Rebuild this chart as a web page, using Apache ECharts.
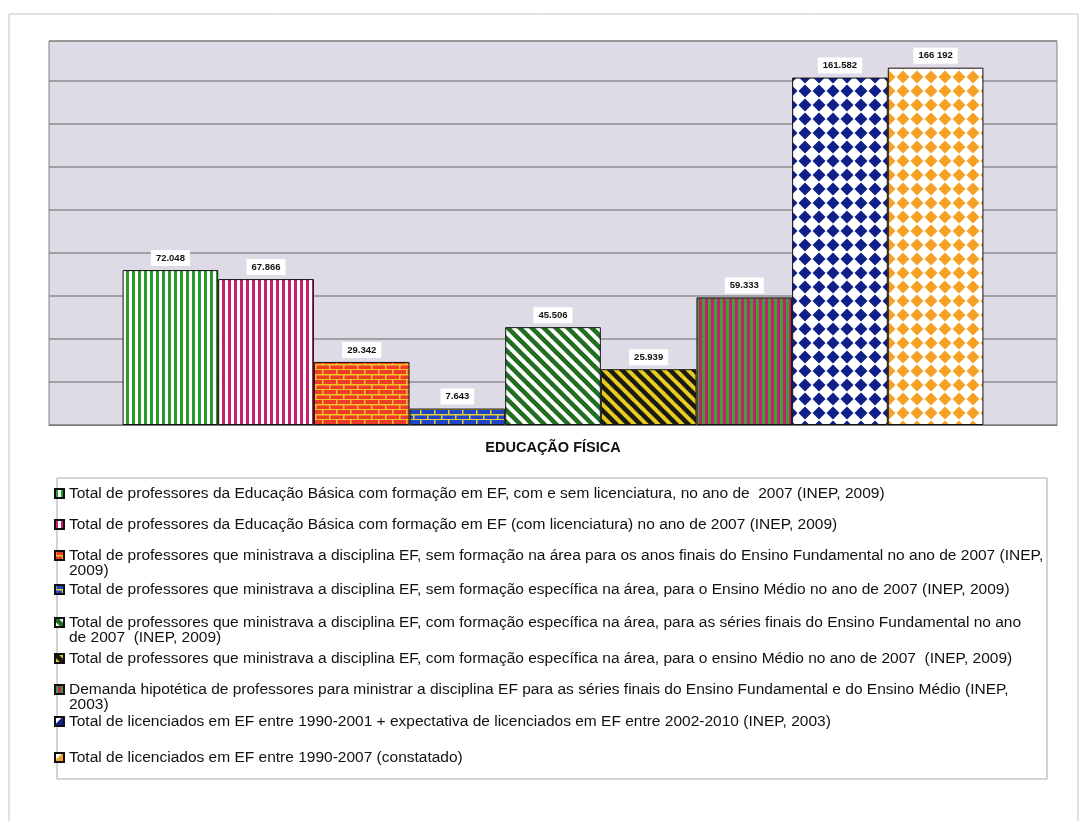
<!DOCTYPE html>
<html>
<head>
<meta charset="utf-8">
<script src="https://cdn.jsdelivr.net/npm/echarts@6/dist/echarts.min.js"></script>
<style>
  html, body { margin: 0; padding: 0; background: #fff; }
  #chart { width: 1086px; height: 821px; }
</style>
</head>
<body>
<div id="chart"></div>
<script>
// dados
const categories = ['EDUCAÇÃO FÍSICA'];
const seriesNames = [
  'Total de professores da Educação Básica com formação em EF, com e sem licenciatura, no ano de  2007 (INEP, 2009)',
  'Total de professores da Educação Básica com formação em EF (com licenciatura) no ano de 2007 (INEP, 2009)',
  'Total de professores que ministrava a disciplina EF, sem formação na área para os anos finais do Ensino Fundamental no ano de 2007 (INEP,\n2009)',
  'Total de professores que ministrava a disciplina EF, sem formação específica na área, para o Ensino Médio no ano de 2007 (INEP, 2009)',
  'Total de professores que ministrava a disciplina EF, com formação específica na área, para as séries finais do Ensino Fundamental no ano\nde 2007  (INEP, 2009)',
  'Total de professores que ministrava a disciplina EF, com formação específica na área, para o ensino Médio no ano de 2007  (INEP, 2009)',
  'Demanda hipotética de professores para ministrar a disciplina EF para as séries finais do Ensino Fundamental e do Ensino Médio (INEP,\n2003)',
  'Total de licenciados em EF entre 1990-2001 + expectativa de licenciados em EF entre 2002-2010 (INEP, 2003)',
  'Total de licenciados em EF entre 1990-2007 (constatado)'
];
const values = [72048, 67866, 29342, 7643, 45506, 25939, 59333, 161582, 166192];
const valueLabels = ['72.048', '67.866', '29.342', '7.643', '45.506', '25.939', '59.333', '161.582', '166 192'];

// padrões de preenchimento (estilo Excel)
function makePattern(w, h, draw) {
  const c = document.createElement('canvas');
  c.width = w; c.height = h;
  draw(c.getContext('2d'), w, h);
  return { image: c, repeat: 'repeat' };
}
function vStripes(a, b) {
  return makePattern(6, 6, (g) => {
    g.fillStyle = b; g.fillRect(0, 0, 6, 6);
    g.fillStyle = a; g.fillRect(0, 0, 3, 6);
  });
}
function diag(a, b) {
  return makePattern(12, 12, (g) => {
    g.fillStyle = b; g.fillRect(0, 0, 12, 12);
    g.strokeStyle = a; g.lineWidth = 4.5;
    for (let k = -24; k <= 24; k += 12) {
      g.beginPath(); g.moveTo(k - 4, -4); g.lineTo(k + 16, 16); g.stroke();
    }
  });
}
function brick(a, b) {
  return makePattern(14, 10, (g) => {
    g.fillStyle = a; g.fillRect(0, 0, 14, 10);
    g.fillStyle = b;
    g.fillRect(0, 4, 14, 1.5); g.fillRect(0, 9, 14, 1.5);
    g.fillRect(0, 0, 1.5, 4); g.fillRect(7, 5, 1.5, 4);
  });
}
function diamonds(a) {
  return makePattern(14, 14, (g) => {
    g.fillStyle = '#fff'; g.fillRect(0, 0, 14, 14);
    g.fillStyle = a;
    g.beginPath();
    g.moveTo(7, 0.5); g.lineTo(13.5, 7); g.lineTo(7, 13.5); g.lineTo(0.5, 7);
    g.closePath(); g.fill();
  });
}
const fills = [
  vStripes('#2a9a2a', '#ffffff'),
  vStripes('#c8206e', '#ffffff'),
  brick('#f03a2a', '#f2c428'),
  brick('#2046c8', '#e8cc30'),
  diag('#1f6e22', '#ffffff'),
  diag('#1a1a12', '#e6cc22'),
  vStripes('#3ea03a', '#c4206c'),
  diamonds('#10208a'),
  diamonds('#f7a024')
];

const font = '"Liberation Sans", Arial, sans-serif';
const series = seriesNames.map((name, i) => ({
  name: name,
  type: 'bar',
  data: [values[i]],
  barGap: '0%',
  barCategoryGap: '14.6%',
  itemStyle: { color: fills[i], borderColor: '#111', borderWidth: 1 },
  label: {
    show: true,
    position: 'top',
    distance: 4,
    formatter: () => valueLabels[i],
    fontFamily: font,
    fontWeight: 'bold',
    fontSize: 9.5,
    color: '#111',
    backgroundColor: '#fff',
    padding: [3, 5]
  }
}));

// legenda: um componente por linha
const rowY = [493, 524, 555, 589, 622, 658, 689, 721, 757];
const legends = seriesNames.map((name, i) => {
  const wrapped = name.indexOf('\n') >= 0;
  return {
    data: [name],
    left: 54,
    top: rowY[i] - (wrapped ? 22.5 : 7.5),
    padding: 0,
    itemWidth: 9,
    itemHeight: 9,
    icon: 'rect',
    selectedMode: false,
    // linha vazia acima para manter o ícone na primeira linha
    formatter: (n) => (wrapped ? '\n' + n : n),
    textStyle: {
      fontFamily: font,
      fontSize: 15.5,
      color: '#111',
      lineHeight: 15
    }
  };
});

const chart = echarts.init(document.getElementById('chart'));
chart.setOption({
  animation: false,
  backgroundColor: '#fff',
  graphic: [
    { type: 'rect', z: 0, shape: { x: 9, y: 14, width: 1069, height: 830 },
      style: { fill: 'none', stroke: '#c4c4c4', lineWidth: 1 } },
    { type: 'rect', z: 0, shape: { x: 57, y: 478, width: 990, height: 301 },
      style: { fill: '#fff', stroke: '#a8a8a8', lineWidth: 1 } }
  ],
  grid: {
    left: 49, right: 29, top: 41, bottom: 396,
    show: true,
    backgroundColor: '#dedbe7',
    borderColor: '#808080',
    borderWidth: 1
  },
  legend: legends,
  xAxis: {
    type: 'category',
    data: categories,
    axisTick: { show: false },
    axisLine: { lineStyle: { color: '#777', width: 1 } },
    axisLabel: {
      margin: 15,
      fontFamily: font,
      fontWeight: 'bold',
      fontSize: 14.5,
      color: '#111'
    }
  },
  yAxis: {
    type: 'value',
    min: 0,
    max: 178600,
    interval: 20000,
    axisLabel: { show: false },
    axisLine: { show: false },
    axisTick: { show: false },
    splitLine: { lineStyle: { color: '#8c8c8c', width: 1.5 } }
  },
  series: series
});
</script>
</body>
</html>
